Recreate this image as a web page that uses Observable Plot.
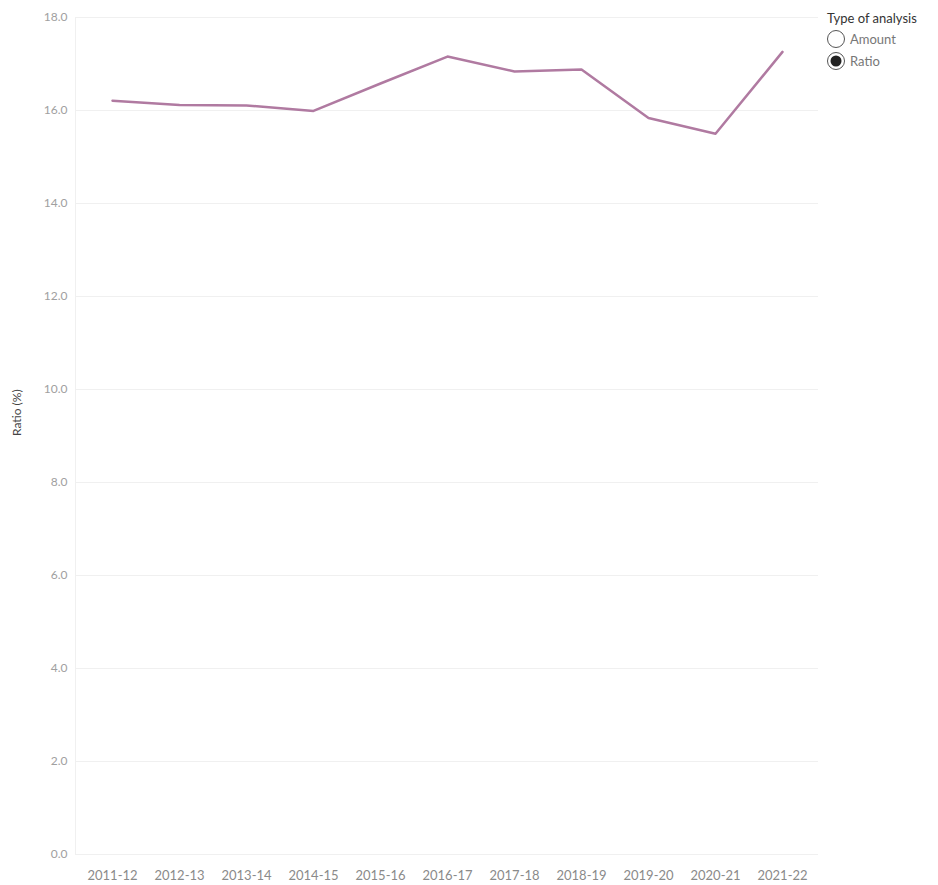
<!DOCTYPE html>
<html>
<head>
<meta charset="utf-8">
<script src="https://cdn.jsdelivr.net/npm/d3@7"></script>
<script src="https://cdn.jsdelivr.net/npm/@observablehq/plot@0.6"></script>
<style>
  html, body { margin: 0; padding: 0; background: #fff; }
  #wrap { position: relative; width: 938px; height: 885px; font-family: Lato, "Open Sans", sans-serif; overflow: hidden; }
  #legend { position: absolute; left: 827px; top: 10px; font-size: 13px; color: #333; white-space: nowrap; }
  #legend .title { height: 17px; line-height: 17px; margin-bottom: 1px; }
  #legend .opt { display: flex; align-items: center; height: 22px; color: #777; margin-left: -1px; }
  #legend svg { margin-right: 4px; }
</style>
</head>
<body>
<div id="wrap">
  <div id="chart"></div>
  <div id="legend"></div>
</div>
<script>
const years = ["2011-12","2012-13","2013-14","2014-15","2015-16","2016-17","2017-18","2018-19","2019-20","2020-21","2021-22"];
const ratio = [16.21, 16.12, 16.11, 15.99, 16.58, 17.16, 16.84, 16.88, 15.84, 15.50, 17.26];
const yTicks = [0, 2, 4, 6, 8, 10, 12, 14, 16, 18];
const legendTitle = "Type of analysis";
const legendOptions = ["Amount", "Ratio"];
const selectedOption = "Ratio";

const data = years.map((y, i) => ({year: y, value: ratio[i]}));

const chart = Plot.plot({
  width: 938,
  height: 885,
  marginLeft: 75,
  marginRight: 120,
  marginTop: 17,
  marginBottom: 31,
  style: {fontFamily: "Lato, 'Open Sans', sans-serif", fontSize: "12px", color: "#999", background: "#fff"},
  x: {type: "point", domain: years, padding: 0.5, label: null},
  y: {domain: [0, 18], label: null},
  marks: [
    Plot.gridY(yTicks, {stroke: "#f0f0f0", strokeOpacity: 1, strokeWidth: 1}),
    Plot.axisY({ticks: yTicks, tickFormat: d3.format(".1f"), tickSize: 0, tickPadding: 8, label: null, fill: "#a0a0a0", fontSize: 12}),
    Plot.axisX({tickSize: 0, tickPadding: 16, label: null, fill: "#8a8a8a", fontSize: 13}),
    Plot.frame({anchor: "left", stroke: "#f0f0f0"}),
    Plot.line(data, {x: "year", y: "value", stroke: "#b07aa1", strokeWidth: 2.5, curve: "linear"}),
    Plot.text(["Ratio (%)"], {frameAnchor: "left", dx: -58, rotate: -90, fill: "#444", fontSize: 12})
  ]
});
document.getElementById("chart").appendChild(chart);

const leg = document.getElementById("legend");
let html = `<div class="title">${legendTitle}</div>`;
for (const o of legendOptions) {
  const sel = o === selectedOption;
  html += `<div class="opt"><svg width="20" height="20"><circle cx="10" cy="10" r="8.5" fill="#fff" stroke="#555" stroke-width="1"/>${sel ? '<circle cx="10" cy="10" r="5.5" fill="#222"/>' : ''}</svg>${o}</div>`;
}
leg.innerHTML = html;
</script>
</body>
</html>
